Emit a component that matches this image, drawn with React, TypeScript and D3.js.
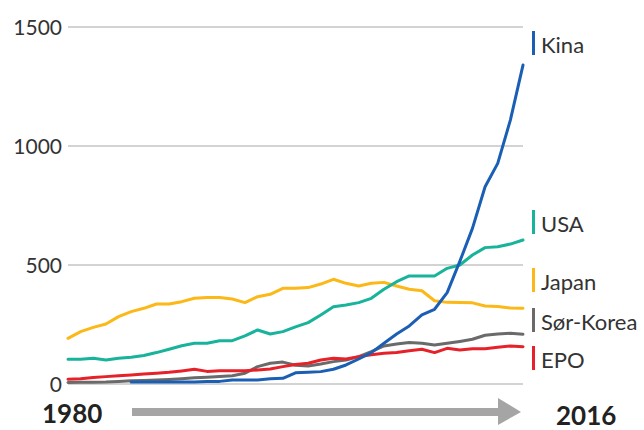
import React from "react";
import * as d3 from "d3";

const years: number[] = d3.range(1980, 2017);

const kinaStart = 1985;
const kina: number[] = [8, 8, 8, 8, 8, 8, 10, 11, 17, 17, 17, 22, 24, 47, 49, 52, 62, 80, 105, 132, 171, 210, 244, 290, 314, 384, 515, 654, 829, 927, 1109, 1340];
const usa: number[] = [104, 104, 108, 101, 108, 112, 120, 132, 146, 161, 171, 171, 182, 182, 202, 227, 210, 220, 240, 258, 290, 325, 332, 342, 360, 398, 430, 454, 454, 454, 486, 500, 542, 573, 577, 588, 605];
const japan: number[] = [192, 220, 238, 252, 283, 304, 318, 336, 336, 346, 360, 363, 363, 357, 342, 367, 377, 402, 402, 405, 420, 440, 423, 412, 423, 427, 412, 398, 392, 350, 343, 342, 341, 328, 326, 319, 318];
const korea: number[] = [6, 7, 7, 8, 11, 14, 15, 17, 19, 22, 26, 28, 31, 35, 45, 73, 87, 92, 79, 76, 84, 94, 101, 115, 136, 160, 168, 174, 171, 164, 171, 179, 188, 205, 210, 213, 209];
const epo: number[] = [20, 22, 27, 31, 35, 38, 42, 45, 49, 55, 62, 53, 56, 56, 56, 59, 63, 73, 82, 87, 101, 108, 105, 115, 123, 129, 132, 140, 146, 132, 150, 143, 148, 148, 154, 160, 157];

const seriesNames: string[] = ["Sør-Korea", "EPO", "Japan", "USA", "Kina"];
const legendOrder: string[] = ["Kina", "USA", "Japan", "Sør-Korea", "EPO"];
const yTicks: number[] = [0, 500, 1000, 1500];
const startLabel = "1980";
const endLabel = "2016";

const colors: Record<string, string> = {
  Kina: "#1b5fb5",
  USA: "#17b39a",
  Japan: "#fbb817",
  "Sør-Korea": "#6a6a6a",
  EPO: "#e62129",
};

const legendBaseline: Record<string, number> = {
  Kina: 53,
  USA: 232,
  Japan: 290,
  "Sør-Korea": 330,
  EPO: 368,
};

function seriesData(name: string): [number, number][] {
  if (name === "Kina") return kina.map((v, i) => [kinaStart + i, v]);
  const arr = name === "USA" ? usa : name === "Japan" ? japan : name === "Sør-Korea" ? korea : epo;
  return arr.map((v, i) => [years[i], v]);
}

export default function App() {
  const W = 644;
  const H = 430;
  const x = d3.scaleLinear().domain([1980, 2016]).range([68, 523]);
  const y = d3.scaleLinear().domain([0, 1500]).range([384, 27]);
  const line = d3
    .line<[number, number]>()
    .x((d) => x(d[0]))
    .y((d) => y(d[1]));
  const font = "Lato, 'Open Sans', sans-serif";

  return (
    <svg
      width={W}
      height={H}
      style={{ position: "absolute", left: 0, top: 0, background: "#fff" }}
      fontFamily={font}
    >
      {yTicks.map((t) => (
        <g key={t}>
          <line x1={x(1980)} x2={x(2016)} y1={y(t)} y2={y(t)} stroke="#a8a8a8" strokeWidth={1.2} />
          <text x={62} y={y(t) + 7.5} textAnchor="end" fontSize={21} fill="#333">
            {t}
          </text>
        </g>
      ))}
      {seriesNames.map((n) => (
        <path
          key={n}
          d={line(seriesData(n)) || ""}
          fill="none"
          stroke={colors[n]}
          strokeWidth={3}
          strokeLinejoin="round"
          strokeLinecap="round"
        />
      ))}
      {legendOrder.map((n) => (
        <g key={n}>
          <rect x={532} y={legendBaseline[n] - 22} width={3} height={24} fill={colors[n]} />
          <text x={541} y={legendBaseline[n]} fontSize={22} fill="#333">
            {n}
          </text>
        </g>
      ))}
      <text x={42} y={423} fontSize={26} fontWeight="bold" fill="#222">
        {startLabel}
      </text>
      <text x={556} y={425} fontSize={26} fontWeight="bold" fill="#222">
        {endLabel}
      </text>
      <rect x={132} y={408} width={367} height={8} fill="#a5a5a5" />
      <path d="M498,398 L521,412 L498,425 Z" fill="#a5a5a5" />
    </svg>
  );
}
